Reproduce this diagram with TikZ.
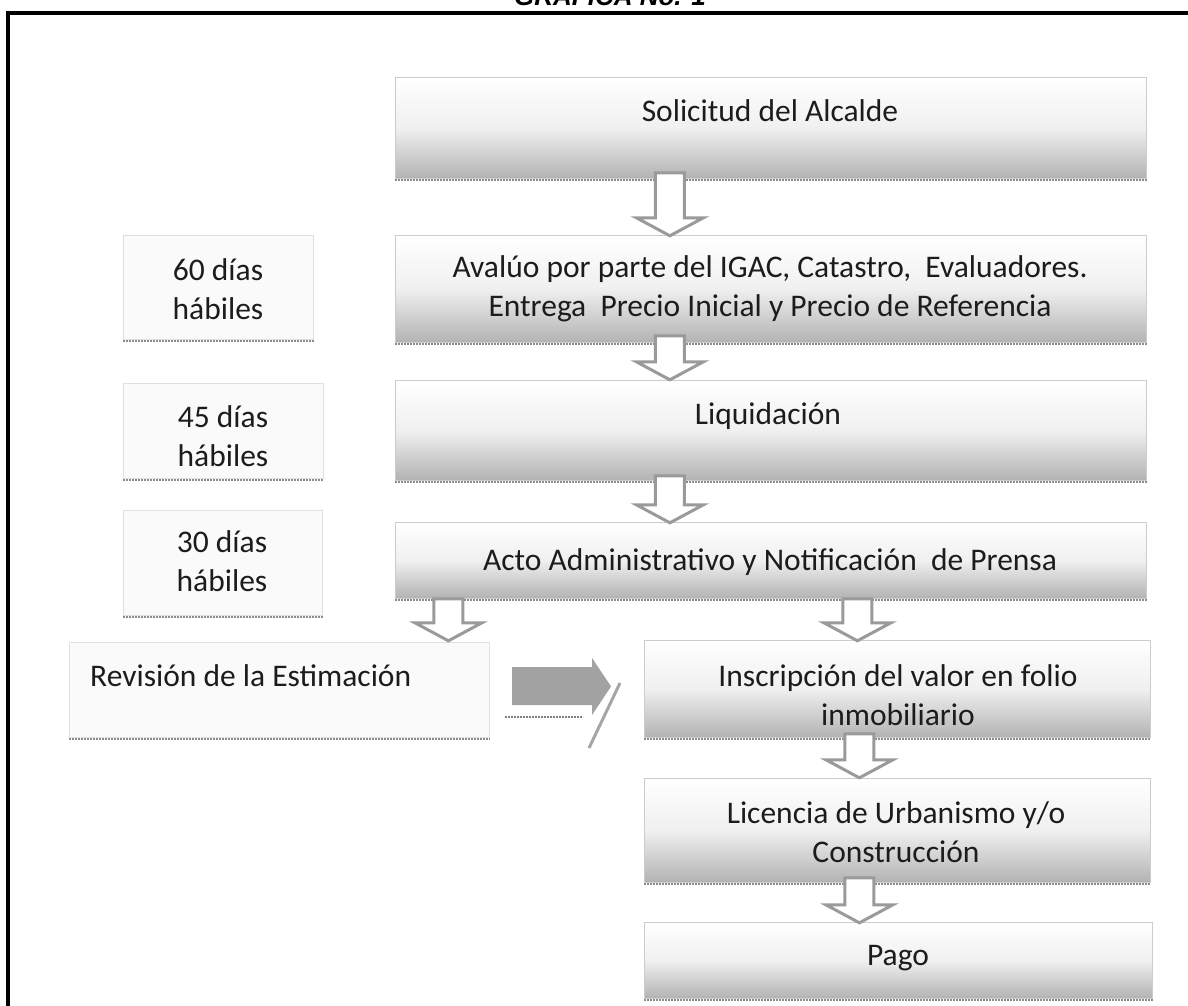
\documentclass[tikz,border=0pt]{standalone}
\usepackage{fontspec}
\setmainfont{Carlito}
\newfontfamily\titlefont{Liberation Sans}
\usetikzlibrary{calc}
\definecolor{txtc}{HTML}{1C1C1C}
\definecolor{arrc}{HTML}{9A9A9A}
\definecolor{blockc}{HTML}{A2A2A2}
\tikzset{
  txt/.style={font=\fontsize{31.5}{39}\selectfont, text=txtc, inner sep=0pt, align=center},
  mainbox/.style={draw=black!20, line width=0.8pt, top color=white, bottom color=black!30, middle color=black!6, inner sep=0pt, anchor=north west},
  sidebox/.style={draw=black!12, line width=0.6pt, fill=black!2, inner sep=0pt, anchor=north west},
  bottomedge/.style={draw=black!45, line width=2pt, dash pattern=on 2pt off 1pt},
  harrow/.style={draw=arrc, line width=3pt, fill=white, line join=miter},
  pics/hdown/.style={code={\path[harrow] (-14.5,0) -- (14.5,0) -- (14.5,#1-18) -- (33.5,#1-18) -- (0,#1) -- (-33.5,#1-18) -- (-14.5,#1-18) -- cycle;}}
}
\begin{document}
\begin{tikzpicture}[x=1pt,y=-1pt]
\useasboundingbox (0,0) rectangle (1188,1006);
\fill[white] (0,0) rectangle (1188,1006);

% title (cut at top) and frame
\node[font=\titlefont\bfseries\itshape\fontsize{26}{26}\selectfont, anchor=base, inner sep=0pt] (title) at (610,6) {GRAFICA No. 1};
\draw[line width=3.5pt] (8,1100) -- (8,13) -- (1300,13);

% main column boxes
\node[mainbox, minimum width=751pt, minimum height=101pt] (b1) at (395,77) {};
\node[mainbox, minimum width=751pt, minimum height=107pt] (b2) at (395,235) {};
\node[mainbox, minimum width=751pt, minimum height=100pt] (b3) at (395,380) {};
\node[mainbox, minimum width=751pt, minimum height=76pt] (b4) at (395,522) {};

% side boxes
\node[sidebox, minimum width=190pt, minimum height=104pt] (s1) at (123,235) {};
\node[sidebox, minimum width=200pt, minimum height=95pt] (s2) at (123,383) {};
\node[sidebox, minimum width=199pt, minimum height=105pt] (s3) at (123,510) {};
\node[sidebox, minimum width=420pt, minimum height=95pt] (rv) at (69,642) {};

% lower right boxes
\node[mainbox, minimum width=506pt, minimum height=97pt] (bi) at (644,640) {};
\node[mainbox, minimum width=506pt, minimum height=104pt] (bl) at (644,778) {};
\node[mainbox, minimum width=508pt, minimum height=76pt] (bp) at (644,922) {};

% bottom edges
\foreach \n in {b1,b2,b3,b4,s1,s2,s3,rv,bi,bl,bp}{
  \draw[bottomedge] ([yshift=-1pt]\n.south west) -- ([yshift=-1pt]\n.south east);
}

% texts
\node[txt] (t1) at (770,111) {Solicitud del Alcalde};
\node[txt] (t2) at (770,289) {Aval\'uo por parte del IGAC, Catastro,\ \ Evaluadores.\\Entrega\ \ Precio Inicial y Precio de Referencia};
\node[txt] (t3) at (768,416) {Liquidaci\'on};
\node[txt] (t4) at (770,562) {Acto Administrativo y Notificaci\'on\ \ de Prensa};
\node[txt] (ts1) at (218,289) {60 d\'{\i}as\\h\'abiles};
\node[txt] (ts2) at (223,436) {45 d\'{\i}as\\h\'abiles};
\node[txt] (ts3) at (222,561) {30 d\'{\i}as\\h\'abiles};
\node[txt, anchor=west] (trv) at (90,676) {Revisi\'on de la Estimaci\'on};
\node[txt] (tbi) at (898,695) {Inscripci\'on del valor en folio\\inmobiliario};
\node[txt] (tbl) at (896,832) {Licencia de Urbanismo y/o\\Construcci\'on};
\node[txt] (tbp) at (898,958) {Pago};

% hollow down arrows
\pic at ([xshift=-101pt,yshift=6pt]b1.south) {hdown=63};
\pic at ([xshift=-101pt,yshift=7pt]b2.south) {hdown=44};
\pic at ([xshift=-101pt,yshift=5pt]b3.south) {hdown=47};
\pic at ([xshift=-322.5pt]b4.south) {hdown=42};
\pic at ([xshift=86.5pt]b4.south) {hdown=42};
\pic at ([xshift=-38pt,yshift=4pt]bi.south) {hdown=44};
\pic at ([xshift=-38pt,yshift=5pt]bl.south) {hdown=45};

% block arrow between Revision and Inscripcion
\fill[blockc] (512,667) -- (592,667) -- (592,658) -- (611,686.5) -- (592,715) -- (592,705) -- (512,705) -- cycle;
\draw[black!50, line width=2.5pt, dash pattern=on 2pt off 1pt] (505,717) -- (583,717);
\draw[black!35, line width=3pt] (620,683) -- (589,748);
\end{tikzpicture}
\end{document}
